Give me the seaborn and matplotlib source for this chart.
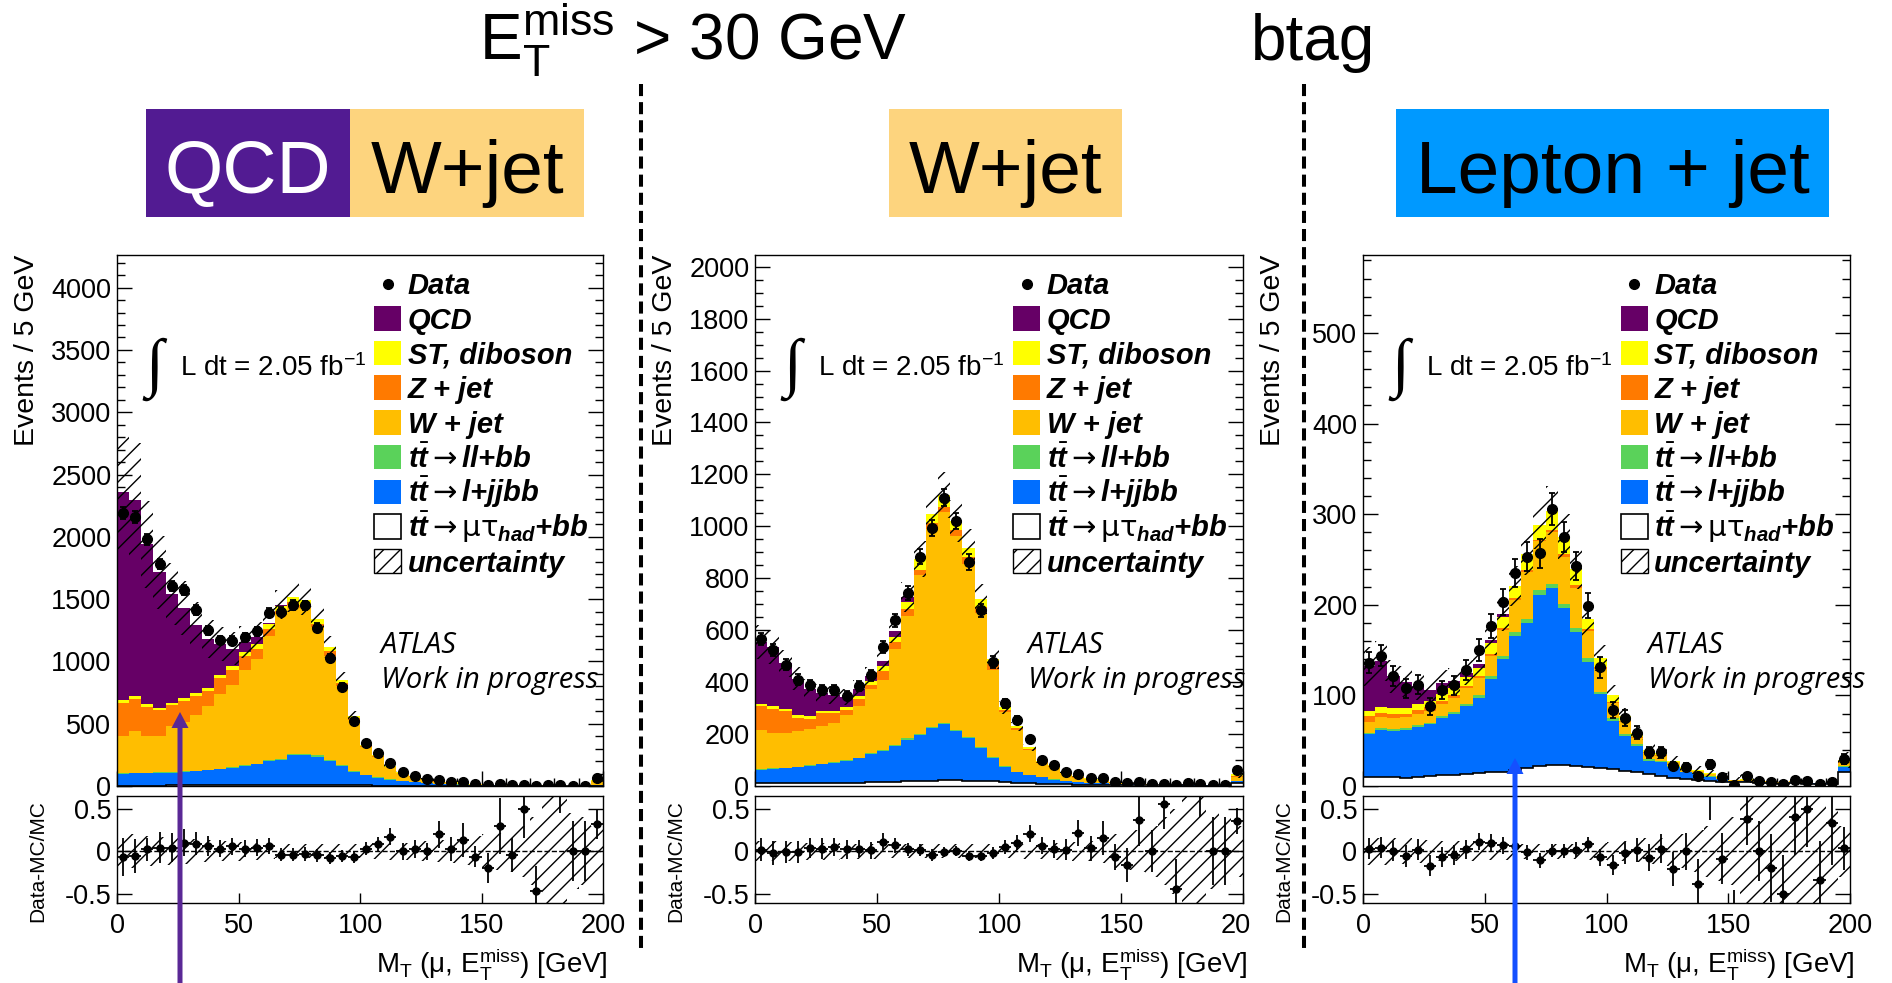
import numpy as np
import pandas as pd
import matplotlib.pyplot as plt
import seaborn as sns
from matplotlib.patches import Rectangle, FancyArrow
from matplotlib.lines import Line2D
from matplotlib.ticker import MultipleLocator, NullLocator
from matplotlib.transforms import Bbox

FIG_W, FIG_H = 1892, 983

# 5 GeV bins from 0 to 200 GeV (last bin holds the overflow)
BIN_EDGES = np.arange(0, 205, 5)
BIN_CENTERS = BIN_EDGES[:-1] + 2.5

# seaborn puts the first hue level on top of the stack
PROCESS_ORDER = ["QCD", "ST, diboson", "Z + jet", "W + jet", "tt_ll", "tt_ljj", "tt_mutau"]
PROCESS_COLORS = {
    "QCD": "#660066",
    "ST, diboson": "#FFFF00",
    "Z + jet": "#FF7A00",
    "W + jet": "#FFBE00",
    "tt_ll": "#5AD25A",
    "tt_ljj": "#006EFF",
    "tt_mutau": "#FFFFFF",
}
LEGEND_LABELS = {
    "QCD": "QCD",
    "ST, diboson": "ST, diboson",
    "Z + jet": "Z + jet",
    "W + jet": "W + jet",
    "tt_ll": r"t$\bar{\mathbf{t}}\mathsf{\rightarrow}$ll+bb",
    "tt_ljj": r"t$\bar{\mathbf{t}}\mathsf{\rightarrow}$l+jjbb",
    "tt_mutau": r"t$\bar{\mathbf{t}}\mathsf{\rightarrow\mu\tau}_{\mathbf{had}}$+bb",
}

# ---------------- region 1: QCD / W+jet ----------------
data_1 = [2191, 2158, 1980, 1783, 1603, 1572, 1412, 1249, 1173, 1167, 1193, 1243, 1390, 1398,
          1454, 1449, 1271, 1024, 796, 520, 343, 267, 188, 110, 84, 59, 48, 34, 34, 15, 8, 13,
          6, 6, 2, 10, 7, 2, 3, 62]
qcd_1 = [1669, 1576, 1285, 1086, 876, 723, 552, 391, 246, 141, 82, 57, 14, 8] + [0] * 26
st_1 = [20, 20, 18, 18, 18, 20, 20, 22, 24, 26, 30, 35, 40, 40, 42, 40, 35, 30, 22, 14, 10, 8,
        6, 5, 4, 3, 3, 2, 2, 1, 0.5, 0.5, 0.3, 0.3, 0.3, 0.3, 0.3, 0.15, 0.2, 5]
zjet_1 = [268, 258, 233, 205, 163, 174, 155, 126, 132, 127, 112, 85, 56, 28, 22, 28, 28, 42, 23,
          14, 10, 8, 6, 4, 3, 2, 2, 2, 1, 1, 0.5, 0.5, 0.2, 0.1, 0.1, 0.1, 0.1, 0.05, 0.1, 2]
wjet_1 = [295, 336, 297, 295, 371, 394, 444, 507, 597, 657, 769, 838, 996, 1160, 1196, 1166, 1030,
          831, 634, 409, 223, 159, 94, 59, 43, 29, 15, 13, 14, 6, 3.5, 3.5, 2.5, 1.5, 1.4, 2, 1.5,
          0.7, 1.1, 28]
ttll_1 = [5, 5, 5, 5, 5, 5, 6, 6, 6, 6, 7, 7, 8, 8, 9, 9, 9, 8, 7, 6, 5, 4, 3, 3, 2, 2, 1, 1, 1,
          1, 0.5, 0.5, 0.3, 0.2, 0.2, 0.2, 0.2, 0.1, 0.2, 1]
ttlj_1 = [95, 97, 99, 101, 103, 108, 113, 120, 128, 138, 151, 166, 189, 204, 237, 242, 227, 194,
          154, 110, 80, 64, 48, 36, 27, 21, 17, 13, 11, 6, 4, 4, 2.5, 1.6, 1.5, 2, 1.6, 0.8, 1.2, 9]
ttmt_1 = [4, 4, 4, 4, 5, 5, 5, 6, 6, 6, 7, 7, 8, 8, 9, 9, 9, 8, 7, 6, 5, 4, 4, 3, 3, 2, 2, 2, 1,
          1, 1, 1, 0.5, 0.3, 0.3, 0.4, 0.3, 0.2, 0.2, 2]
unc_1 = [0.2, 0.2, 0.18, 0.17, 0.16, 0.15, 0.14, 0.13, 0.12, 0.12, 0.11, 0.1, 0.09, 0.08, 0.08,
         0.08, 0.08, 0.08, 0.08, 0.08, 0.09, 0.09, 0.1, 0.1, 0.11, 0.12, 0.13, 0.14, 0.16, 0.18,
         0.2, 0.22, 0.25, 0.3, 0.4, 0.65, 0.65, 0.45, 0.4, 0.3]
ratio_err_1 = [0.22, 0.2, 0.14, 0.18, 0.17, 0.16, 0.14, 0.12, 0.1, 0.1, 0.1, 0.1, 0.09, 0.08,
               0.08, 0.08, 0.08, 0.07, 0.07, 0.07, 0.08, 0.09, 0.1, 0.1, 0.11, 0.1, 0.16, 0.14,
               0.2, 0.12, 0.18, 0.33, 0.2, 0.35, 0.3, 0.3, 0.3, 0.35, 0.35, 0.17]

# ---------------- region 2: W+jet ----------------
data_2 = [566, 525, 467, 410, 389, 369, 369, 348, 385, 426, 535, 639, 744, 883, 994, 1110, 1020,
          863, 676, 478, 318, 253, 180, 102, 82, 55, 45, 30, 30, 14, 10, 15, 7, 7, 2, 10, 7, 2, 2, 61]
qcd_2 = [238, 228, 175, 142, 105, 68, 61, 36, 26, 17, 20, 24, 19, 1] + [0] * 26
st_2 = [10, 10, 10, 10, 10, 10, 10, 12, 14, 16, 18, 20, 28, 40, 34, 48, 36, 37, 30, 20, 10, 8, 6,
        5, 4, 3, 3, 2, 2, 1, 1, 1, 1, 0, 0, 0, 0, 0, 0, 7]
zjet_2 = [93, 93, 82, 50, 41, 48, 38, 20, 27, 14, 34, 27, 27, 21, 21, 17, 20, 27, 21, 20, 8, 6, 5,
          4, 3, 2, 2, 1, 1, 1, 1, 1, 0, 0, 0, 0, 0, 0, 0, 3]
wjet_2 = [150, 137, 135, 137, 139, 147, 151, 173, 198, 248, 273, 369, 471, 611, 762, 813, 748, 666,
          518, 336, 207, 161, 94, 53, 47, 29, 16, 13, 12, 4, 3, 3, 1, 0.5, 0.6, 2, 1, 0, 0, 15]
ttll_2 = [2, 2, 2, 2, 2, 2, 3, 3, 3, 3, 4, 4, 5, 5, 6, 6, 6, 5, 4, 3, 3, 2, 2, 1, 1, 1, 1, 1, 1,
          1, 0, 0, 0, 0, 0, 0, 0, 0, 0, 1]
ttlj_2 = [52, 56, 58, 63, 67, 72, 77, 85, 93, 110, 118, 137, 161, 176, 202, 215, 188, 162, 126, 91,
          60, 41, 32, 25, 18, 13, 10, 8, 7, 5, 4, 4, 3, 2, 2, 2, 2, 1, 1, 9]
ttmt_2 = [10, 10, 10, 10, 10, 11, 11, 12, 13, 14, 15, 16, 18, 20, 21, 22, 22, 21, 20, 18, 15, 12,
          10, 8, 7, 6, 5, 4, 3, 3, 3, 2, 2, 2, 1, 1, 1, 1, 1, 10]
unc_2 = [0.12, 0.12, 0.11, 0.11, 0.1, 0.1, 0.1, 0.09, 0.09, 0.09, 0.08, 0.08, 0.08, 0.08, 0.08,
         0.08, 0.08, 0.08, 0.08, 0.08, 0.08, 0.08, 0.09, 0.09, 0.1, 0.1, 0.11, 0.12, 0.14, 0.2,
         0.22, 0.25, 0.3, 0.4, 0.5, 0.65, 0.65, 0.45, 0.4, 0.3]
ratio_err_2 = [0.13, 0.14, 0.13, 0.13, 0.12, 0.12, 0.11, 0.11, 0.1, 0.1, 0.1, 0.09, 0.08, 0.07,
               0.07, 0.06, 0.06, 0.06, 0.06, 0.07, 0.08, 0.09, 0.1, 0.1, 0.11, 0.12, 0.15, 0.15,
               0.2, 0.15, 0.2, 0.3, 0.25, 0.3, 0.35, 0.35, 0.35, 0.4, 0.4, 0.15]

# ---------------- region 3: Lepton + jet (btag) ----------------
data_3 = [136, 144, 121, 108, 112, 88, 106, 111, 128, 150, 177, 203, 235, 253, 257, 306, 275, 243,
          199, 131, 84, 75, 59, 37, 37, 22, 21, 11, 24, 10, 1, 11, 5, 4, 2, 7, 6, 2, 4, 30]
qcd_3 = [49, 51, 35, 29, 19, 12, 12, 8, 5, 5, 3, 4] + [0] * 28
st_3 = [6, 6, 6, 6, 7, 7, 8, 8, 10, 9, 12, 12, 14, 18, 16, 21, 19, 17, 11, 10, 7, 5, 4, 3, 2, 2, 2,
        1, 1, 1, 0, 1, 0, 0, 0, 0, 0, 0, 0, 3]
zjet_3 = [6, 5, 5, 4, 4, 4, 3, 3, 2, 2, 2, 2, 2, 2, 2, 3, 3, 3, 2, 2, 1, 1, 1, 1, 1, 0, 0, 0, 0,
          0, 0, 0, 0, 0, 0, 0, 0, 0, 0, 1]
wjet_3 = [12, 12, 12, 12, 13, 13, 14, 15, 17, 19, 23, 28, 35, 52, 54, 57, 52, 45, 30, 25, 17, 14,
          7, 6, 5, 4, 3, 3, 2, 2, 1, 1, 1, 1, 1, 1, 1, 0, 0, 3]
ttll_3 = [2, 2, 2, 2, 2, 2, 2, 3, 3, 3, 3, 4, 4, 4, 5, 5, 5, 4, 4, 3, 3, 2, 2, 2, 1, 1, 1, 1, 1,
          0, 0, 0, 0, 0, 0, 0, 0, 0, 0, 1]
ttlj_3 = [47, 52, 51, 53, 55, 57, 63, 67, 75, 83, 103, 124, 148, 160, 189, 195, 173, 148, 116, 81,
          53, 38, 29, 15, 16, 12, 7, 6, 5, 4, 2, 2, 1, 1, 1, 1, 1, 1, 1, 6]
ttmt_3 = [10, 10, 10, 9, 10, 11, 12, 12, 13, 14, 15, 16, 18, 20, 22, 23, 23, 22, 21, 20, 19, 17,
          15, 13, 11, 9, 8, 7, 5, 4, 4, 4, 3, 3, 2, 3, 2, 2, 2, 15]
unc_3 = [0.16, 0.16, 0.15, 0.15, 0.14, 0.13, 0.12, 0.12, 0.11, 0.11, 0.1, 0.1, 0.1, 0.09, 0.09,
         0.09, 0.09, 0.09, 0.1, 0.1, 0.11, 0.12, 0.13, 0.15, 0.16, 0.18, 0.2, 0.25, 0.3, 0.35,
         0.4, 0.65, 0.65, 0.65, 0.65, 0.65, 0.65, 0.65, 0.5, 0.3]
ratio_err_3 = [0.12, 0.12, 0.12, 0.13, 0.12, 0.12, 0.12, 0.12, 0.11, 0.1, 0.1, 0.1, 0.09, 0.09,
               0.09, 0.08, 0.08, 0.09, 0.09, 0.1, 0.12, 0.13, 0.14, 0.16, 0.17, 0.2, 0.22, 0.3,
               0.35, 0.3, 0.4, 0.3, 0.35, 0.4, 0.45, 0.45, 0.45, 0.45, 0.5, 0.25]


def stack(qcd, st, zjet, wjet, ttll, ttlj, ttmt):
    return dict(zip(PROCESS_ORDER, [qcd, st, zjet, wjet, ttll, ttlj, ttmt]))


PANELS = [
    dict(left=117, width=486, data=data_1, unc=unc_1, ratio_err=ratio_err_1,
         comps=stack(qcd_1, st_1, zjet_1, wjet_1, ttll_1, ttlj_1, ttmt_1),
         ymax=4262, major=500, minor=100, atlas_x=0.543),
    dict(left=755, width=488, data=data_2, unc=unc_2, ratio_err=ratio_err_2,
         comps=stack(qcd_2, st_2, zjet_2, wjet_2, ttll_2, ttlj_2, ttmt_2),
         ymax=2045, major=200, minor=50, atlas_x=0.559),
    dict(left=1363, width=487, data=data_3, unc=unc_3, ratio_err=ratio_err_3,
         comps=stack(qcd_3, st_3, zjet_3, wjet_3, ttll_3, ttlj_3, ttmt_3),
         ymax=586, major=100, minor=20, atlas_x=0.585),
]
MAIN_TOP, MAIN_H = 255, 531
RATIO_TOP, RATIO_H = 796, 107


def setup_style():
    sns.set_theme(style="ticks")
    plt.rcParams["font.family"] = ["Liberation Sans", "DejaVu Sans"]
    plt.rcParams["mathtext.fontset"] = "custom"
    plt.rcParams["mathtext.rm"] = "Liberation Sans"
    plt.rcParams["mathtext.sf"] = "DejaVu Sans"
    plt.rcParams["mathtext.it"] = "Liberation Sans:italic"
    plt.rcParams["mathtext.bf"] = "Liberation Sans:bold:italic"
    plt.rcParams["hatch.linewidth"] = 1.0
    for key in ("text.color", "axes.labelcolor", "xtick.color", "ytick.color", "axes.edgecolor"):
        plt.rcParams[key] = "black"
    plt.rcParams["axes.linewidth"] = 1.0


def px_axes(fig, left, top, width, height):
    return fig.add_axes([left / FIG_W, 1 - (top + height) / FIG_H, width / FIG_W, height / FIG_H])


def long_frame(comps):
    frames = [pd.DataFrame({"mt": BIN_CENTERS, "events": np.asarray(v, float), "process": p})
              for p, v in comps.items()]
    return pd.concat(frames, ignore_index=True)


def draw_legend(ax):
    x_box, box_w, box_h = 0.529, 0.056, 0.046
    rows = ["Data"] + PROCESS_ORDER + ["uncertainty"]
    for k, key in enumerate(rows):
        y = 0.946 - 0.0653 * k
        if key == "Data":
            ax.plot([x_box + box_w / 2], [y], "o", color="black", ms=7,
                    transform=ax.transAxes, clip_on=False)
            label = "Data"
        elif key == "uncertainty":
            ax.add_patch(Rectangle((x_box, y - box_h / 2), box_w, box_h, transform=ax.transAxes,
                                   facecolor="white", edgecolor="black", hatch="//", lw=1))
            label = "uncertainty"
        else:
            edge = "black" if key == "tt_mutau" else "none"
            ax.add_patch(Rectangle((x_box, y - box_h / 2), box_w, box_h, transform=ax.transAxes,
                                   facecolor=PROCESS_COLORS[key], edgecolor=edge, lw=1.2))
            label = LEGEND_LABELS[key]
        ax.text(0.598, y - 0.02, label, transform=ax.transAxes, fontsize=21,
                fontweight="bold", fontstyle="italic", va="baseline")


def draw_panel(fig, cfg):
    ax = px_axes(fig, cfg["left"], MAIN_TOP, cfg["width"], MAIN_H)
    axr = px_axes(fig, cfg["left"], RATIO_TOP, cfg["width"], RATIO_H)

    comps = cfg["comps"]
    data = np.asarray(cfg["data"], float)
    unc = np.asarray(cfg["unc"], float)
    total = np.sum([np.asarray(v, float) for v in comps.values()], axis=0)

    # stacked backgrounds
    sns.histplot(data=long_frame(comps), x="mt", weights="events", hue="process",
                 hue_order=PROCESS_ORDER, multiple="stack", bins=BIN_EDGES.tolist(),
                 element="step", fill=True, alpha=1, linewidth=0, palette=PROCESS_COLORS,
                 legend=False, ax=ax)
    ax.stairs(np.asarray(comps["tt_mutau"], float), BIN_EDGES, baseline=None,
              color="black", linewidth=1.2, zorder=3)
    ax.stairs(total * (1 + unc), BIN_EDGES, baseline=total * (1 - unc), fill=True,
              facecolor="none", edgecolor="black", hatch="//", linewidth=0, zorder=4)
    ax.errorbar(BIN_CENTERS, data, yerr=np.sqrt(data), fmt="o", color="black", ms=7,
                elinewidth=1.3, capsize=2, capthick=1.3, zorder=5)

    ax.set_xlim(0, 200)
    ax.set_ylim(0, cfg["ymax"])
    ax.set_xlabel("")
    ax.set_ylabel("")
    ax.xaxis.set_major_locator(MultipleLocator(50))
    ax.xaxis.set_minor_locator(MultipleLocator(10))
    ax.yaxis.set_major_locator(MultipleLocator(cfg["major"]))
    ax.yaxis.set_minor_locator(MultipleLocator(cfg["minor"]))
    ax.tick_params(which="major", direction="in", length=11, width=1, right=True,
                   labelsize=19.5, pad=4)
    ax.tick_params(which="minor", direction="in", length=5.5, width=1, right=True)
    ax.tick_params(axis="x", labelbottom=False)
    ax.text(-0.185, 1.0, "Events / 5 GeV", transform=ax.transAxes, rotation=90,
            ha="center", va="top", fontsize=20.5)

    draw_legend(ax)
    ax.text(0.058, 0.785, "∫", transform=ax.transAxes, fontsize=47, va="center",
            fontweight="bold", family=["Liberation Serif", "DejaVu Serif"])
    ax.text(0.13, 0.773, "L dt = 2.05 fb$^{-1}$", transform=ax.transAxes, fontsize=20,
            va="baseline")
    ax.text(cfg["atlas_x"], 0.25, "ATLAS", transform=ax.transAxes, fontsize=21,
            fontstyle="italic", family=["Open Sans", "DejaVu Sans"], va="baseline")
    ax.text(cfg["atlas_x"], 0.185, "Work in progress", transform=ax.transAxes, fontsize=21,
            fontstyle="italic", family=["Open Sans", "DejaVu Sans"], va="baseline")

    # ratio panel
    ratio = data / total - 1
    axr.stairs(unc, BIN_EDGES, baseline=-unc, fill=True, facecolor="none",
               edgecolor="black", hatch="//", linewidth=0)
    axr.axhline(0, color="black", ls="--", lw=1)
    axr.errorbar(BIN_CENTERS, ratio, xerr=2.5, yerr=cfg["ratio_err"], fmt="o", color="black",
                 ms=5, elinewidth=1.3, capsize=0)
    axr.set_xlim(0, 200)
    axr.set_ylim(-0.61, 0.65)
    axr.set_xticks([0, 50, 100, 150, 200])
    axr.set_yticks([-0.5, 0, 0.5])
    axr.set_yticklabels(["-0.5", "0", "0.5"])
    axr.xaxis.set_minor_locator(NullLocator())
    axr.tick_params(axis="y", direction="in", length=11, width=1, right=True,
                    labelsize=19.5, pad=4)
    axr.tick_params(axis="x", direction="in", length=7, width=1, labelsize=19.5, pad=7)
    axr.text(-0.163, 0.963, "Data-MC/MC", transform=axr.transAxes, rotation=90,
             ha="center", va="top", fontsize=15)
    axr.text(1.01, -0.645, r"$\mathregular{M_T}$ (μ, $\mathregular{E_T^{miss}}$) [GeV]",
             transform=axr.transAxes, ha="right", va="baseline", fontsize=20)
    return ax, axr


def draw_overlay(fig):
    ov = fig.add_axes([0, 0, 1, 1])
    ov.set_xlim(0, FIG_W)
    ov.set_ylim(FIG_H, 0)
    ov.axis("off")
    ov.set_zorder(10)

    ov.text(479, 60, r"$\mathregular{E_T^{miss}}$ > 30 GeV", fontsize=46, va="baseline")
    ov.text(1251, 60, "btag", fontsize=46, va="baseline")

    boxes = [
        (146, 204, "#521B92", "QCD", "white"),
        (350, 234, "#FDD47E", "W+jet", "black"),
        (889, 233, "#FDD47E", "W+jet", "black"),
        (1396, 433, "#0099FF", "Lepton + jet", "black"),
    ]
    for x0, w, color, label, tcolor in boxes:
        ov.add_patch(Rectangle((x0, 109), w, 108, facecolor=color, edgecolor="none"))
        ov.text(x0 + w / 2, 193, label, color=tcolor, fontsize=54, ha="center", va="baseline")

    for x in (641, 1304):
        ov.add_line(Line2D([x, x], [84, 953], color="black", lw=2.9,
                           linestyle=(0, (3, 1.5))))

    ov.add_patch(FancyArrow(180, 983, 0, 712 - 983, width=5, head_width=17, head_length=16,
                            length_includes_head=True, color="#5A2896", lw=0))
    ov.add_patch(FancyArrow(1515, 983, 0, 758 - 983, width=5, head_width=17, head_length=16,
                            length_includes_head=True, color="#1450FF", lw=0))


def main():
    setup_style()
    fig = plt.figure(figsize=(FIG_W / 100, FIG_H / 100), dpi=100)
    axes = [draw_panel(fig, cfg) for cfg in PANELS]
    draw_overlay(fig)

    # the middle panel's last x label is cut by the neighbouring plot in the original
    fig.canvas.draw()
    cut = Bbox.from_extents(0, 0, 1251, FIG_H)
    for lab in axes[1][1].get_xticklabels():
        lab.set_clip_box(cut)
        lab.set_clip_on(True)

    fig.savefig("out.png", dpi=100, facecolor="white")


if __name__ == "__main__":
    main()
